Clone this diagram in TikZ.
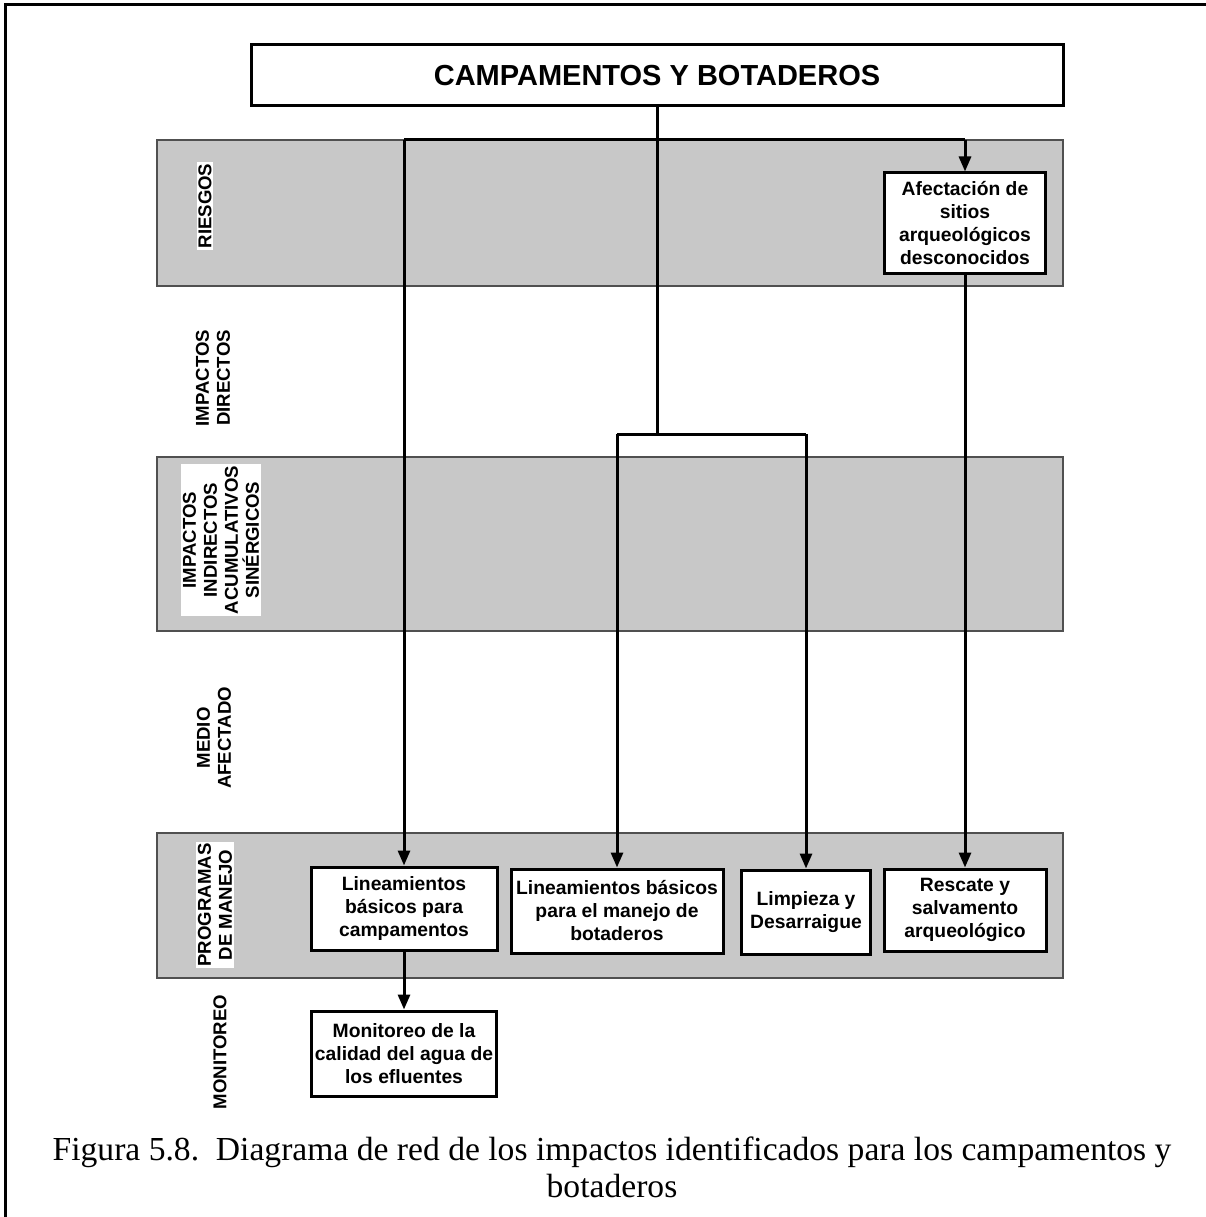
\documentclass[tikz,border=0pt]{standalone}
\usepackage{fontspec}
\setmainfont{Liberation Sans}
\newfontfamily\capfont{Liberation Serif}
\usetikzlibrary{arrows.meta}
\definecolor{bandgray}{RGB}{200,200,200}
\definecolor{bandedge}{RGB}{80,80,80}
\tikzset{
  band/.style={fill=bandgray, draw=bandedge, line width=1.5pt},
  box/.style={draw=black, fill=white, line width=3pt, align=center, inner sep=2pt,
    font=\bfseries\fontsize{19.3}{23}\selectfont},
  lbl/.style={rotate=90, align=center, inner sep=1.5pt,
    font=\bfseries\fontsize{18.6}{21}\selectfont},
  conn/.style={line width=3pt},
  arr/.style={conn, -{Triangle[length=15pt,width=12pt]}},
  capt/.style={font=\capfont\fontsize{33.6}{37}\selectfont, inner sep=0pt},
}
\begin{document}
\begin{tikzpicture}[x=1pt,y=-1pt]
\useasboundingbox (0,0) rectangle (1206,1217);
% outer frame
\draw[line width=3pt] (5,1217) -- (5,5) -- (1206,5);
% bands
\draw[band] (157,140) rectangle (1063,286);
\draw[band] (157,457) rectangle (1063,631);
\draw[band] (157,833) rectangle (1063,978);
% band labels
\node[lbl, fill=white] (lriesgos) at (205,206) {RIESGOS};
\node[lbl] (ldirectos) at (213,378) {IMPACTOS\\DIRECTOS};
\node[lbl, fill=white] (lindirectos) at (221,540) {IMPACTOS\\INDIRECTOS\\ACUMULATIVOS\\SINÉRGICOS};
\node[lbl] (lmedio) at (214,738) {MEDIO\\AFECTADO};
\node[lbl, fill=white] (lprogramas) at (215,905) {PROGRAMAS\\DE MANEJO};
\node[lbl] (lmonitoreo) at (220,1052) {MONITOREO};
% boxes
\node[box, minimum width=812pt, minimum height=61pt, font=\bfseries\fontsize{29}{32}\selectfont] (title) at (657,75.5) {CAMPAMENTOS Y BOTADEROS};
\node[box, minimum width=161pt, minimum height=100pt] (afect) at (965,223) {Afectación de\\sitios\\arqueológicos\\desconocidos};
\node[box, minimum width=186pt, minimum height=83pt] (b1) at (404,908.5) {Lineamientos\\básicos para\\campamentos};
\node[box, minimum width=212pt, minimum height=84pt] (b2) at (617,911) {Lineamientos básicos\\para el manejo de\\botaderos};
\node[box, minimum width=129pt, minimum height=84pt] (b3) at (806,912) {Limpieza y\\Desarraigue};
\node[box, minimum width=162pt, minimum height=82pt] (b4) at (965,910) {Rescate y\\salvamento\\arqueológico};
\node[box, minimum width=185pt, minimum height=85pt] (mon) at (404,1053.5) {Monitoreo de la\\calidad del agua de\\los efluentes};
% junctions
\coordinate (ja) at (657,140);
\coordinate (jL) at (404,140);
\coordinate (jR) at (965,140);
\coordinate (jb) at (657,434);
\coordinate (jbL) at (617,434);
\coordinate (jbR) at (806,434);
% connectors
\draw[conn] (title.south) -- (jb);
\draw[conn] (jL) -- (jR);
\draw[conn] (jbL) -- (jbR);
\draw[arr] (jL) -- (b1);
\draw[arr] (jR) -- (afect);
\draw[arr] (jbL) -- (b2);
\draw[arr] (jbR) -- (b3);
\draw[arr] (afect) -- (b4);
\draw[arr] (b1) -- (mon);
% caption
\node[capt, anchor=base] (cap1) at (612,1160) {Figura 5.8.\ \ Diagrama de red de los impactos identificados para los campamentos y};
\node[capt, anchor=base] (cap2) at (612,1197) {botaderos};
\end{tikzpicture}
\end{document}
